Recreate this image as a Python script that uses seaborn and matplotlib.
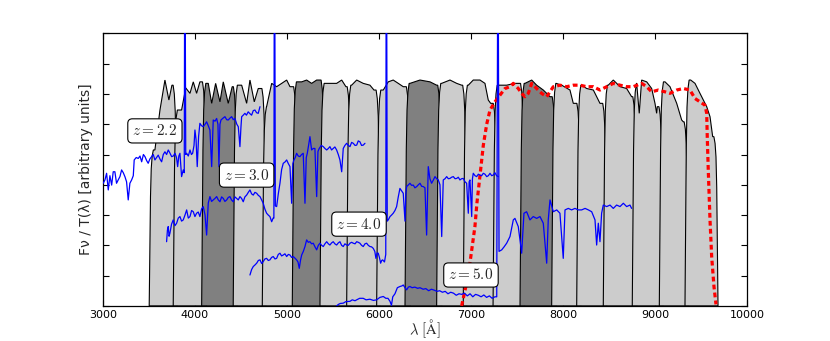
import matplotlib
matplotlib.use("Agg")
import matplotlib.pyplot as plt
import seaborn as sns

# filter bandpasses (Angstrom): base of rising edge / base of falling edge
filter_left = [3503, 3764, 4073, 4416, 4732, 5058, 5359, 5649, 5975, 6283,
               6627, 6916, 7240, 7533, 7877, 8149, 8438, 8753, 9047, 9326]
filter_right = [3808, 4127, 4463, 4773, 5118, 5416, 5700, 6014, 6343, 6684,
                6955, 7287, 7584, 7928, 8196, 8477, 8804, 9088, 9362, 9685]
dark_filters = [2, 5, 9, 13]

# shape of a filter edge (offset from base, fraction of plateau)
edge_off = [0, 6, 14, 22, 32, 45]
edge_frac = [0, 0.3, 0.7, 0.88, 0.96, 1.0]

# top of the filter curves
env_wave = [3565, 3620, 3674, 3717, 3750, 3855, 3900, 3946, 3982, 4018, 4054,
            4145, 4182, 4225, 4272, 4308, 4362, 4405, 4508, 4562, 4598, 4645,
            4688, 4779, 4834, 4888, 4943, 4997, 5033, 5160, 5214, 5268, 5323,
            5467, 5540, 5595, 5641, 5703, 5758, 5829, 5902, 5946, 6047, 6101,
            6155, 6210, 6264, 6337, 6446, 6555, 6627, 6681, 6772, 6845, 6899,
            6971, 7025, 7098, 7152, 7188, 7214, 7334, 7388, 7478, 7587, 7660,
            7714, 7786, 7859, 7925, 7986, 8076, 8112, 8200, 8258, 8330, 8402,
            8492, 8547, 8620, 8692, 8746, 8801, 8829, 8855, 8910, 8964, 9000,
            9018, 9025, 9109, 9163, 9236, 9290, 9308, 9388, 9435, 9489, 9562,
            9598, 9627]
env_top = [5.15, 6.47, 7.46, 6.80, 7.29, 6.47, 7.20, 7.02, 7.40, 7.02, 7.40,
           7.35, 6.69, 7.35, 6.74, 7.40, 6.69, 7.24, 7.29, 6.69, 7.46, 6.74,
           7.18, 6.58, 7.35, 7.24, 7.35, 7.46, 7.24, 7.40, 7.46, 7.35, 7.46,
           7.35, 7.35, 7.46, 7.24, 7.29, 7.46, 7.35, 7.29, 7.13, 7.13, 7.40,
           7.46, 7.35, 7.24, 7.35, 7.46, 7.40, 7.29, 7.35, 7.46, 7.35, 7.29,
           7.29, 7.46, 7.46, 7.35, 6.80, 6.69, 7.29, 7.29, 7.35, 7.35, 7.46,
           7.29, 7.13, 6.91, 7.35, 7.29, 7.13, 6.69, 7.29, 7.18, 7.13, 6.69,
           7.29, 7.46, 7.24, 7.18, 6.91, 7.35, 6.36, 7.46, 7.40, 7.18, 6.69,
           6.36, 6.58, 7.40, 7.24, 6.69, 6.14, 6.08, 7.46, 7.35, 7.02, 6.58,
           6.25, 5.59]

# red dotted response curve
red_wave = [6899, 6953, 6989, 7043, 7065, 7098, 7134, 7171, 7207, 7261, 7315,
            7370, 7424, 7460, 7514, 7551, 7587, 7623, 7660, 7714, 7768, 7823,
            7895, 7967, 8040, 8112, 8185, 8258, 8330, 8402, 8475, 8547, 8620,
            8692, 8764, 8855, 8910, 8964, 9036, 9109, 9163, 9236, 9308, 9380,
            9435, 9489, 9543, 9562, 9568, 9579, 9598, 9616, 9641, 9663]
red_flux = [0.0, 0.76, 1.42, 2.62, 3.4, 4.3, 5.3, 6.0, 6.47, 6.74, 6.96,
            7.18, 7.24, 7.35, 7.18, 7.02, 6.91, 7.02, 7.35, 7.18, 7.02, 6.91,
            7.24, 7.29, 7.24, 7.29, 7.29, 7.24, 7.24, 7.13, 7.24, 7.35, 7.29,
            7.24, 7.24, 7.35, 7.24, 7.07, 7.13, 7.07, 7.02, 7.13, 7.18, 7.13,
            6.85, 6.74, 6.63, 6.36, 5.59, 4.49, 2.84, 1.63, 0.64, 0.05]

# spectra at four redshifts
wave_z22 = [3003, 3022, 3040, 3058, 3076, 3095, 3112, 3130, 3148, 3166, 3185,
            3203, 3221, 3239, 3257, 3275, 3293, 3312, 3330, 3340, 3362, 3384,
            3403, 3421, 3440, 3457, 3475, 3492, 3510, 3529, 3547, 3565, 3583,
            3601, 3620, 3638, 3656, 3674, 3692, 3710, 3728, 3747, 3765, 3783,
            3800, 3812, 3825, 3837, 3855, 3873, 3884, 3888, 3894, 3900, 3910,
            3928, 3946, 3962, 3975, 3990, 4000, 4012, 4025, 4040, 4054, 4072,
            4090, 4110, 4127, 4145, 4163, 4182, 4199, 4218, 4236, 4250, 4261,
            4272, 4283, 4305, 4326, 4345, 4362, 4380, 4399, 4417, 4435, 4455,
            4471, 4489, 4500, 4508, 4525, 4543, 4560, 4579, 4597, 4616, 4634,
            4652, 4670, 4688, 4707]
flux_z22 = [4.05, 4.16, 4.38, 3.83, 4.30, 3.99, 4.43, 4.43, 4.05, 4.16, 4.27,
            4.49, 4.40, 4.27, 4.10, 3.50, 4.05, 4.16, 4.30, 4.82, 4.90, 4.87,
            4.95, 4.76, 5.00, 4.93, 4.80, 4.71, 4.85, 4.93, 5.00, 4.82, 4.90,
            4.98, 4.85, 4.76, 5.00, 5.09, 5.00, 5.15, 5.05, 4.93, 4.95, 5.04,
            4.90, 4.60, 4.95, 5.04, 4.27, 4.49, 4.40, 10.5, 10.5, 5.00, 5.04,
            4.95, 5.15, 5.00, 5.04, 5.30, 5.81, 5.50, 4.60, 5.60, 6.03, 5.95,
            5.92, 6.00, 6.08, 5.95, 5.81, 4.60, 6.14, 6.10, 6.19, 6.00, 4.60,
            6.00, 6.14, 6.20, 6.25, 6.15, 6.14, 6.20, 6.25, 6.15, 6.19, 6.00,
            5.92, 5.26, 5.90, 6.25, 6.30, 6.36, 6.30, 6.41, 6.35, 6.30, 6.45,
            6.47, 6.38, 6.36, 6.58]

wave_z30 = [3692, 3701, 3710, 3719, 3728, 3746, 3764, 3783, 3801, 3819, 3837,
            3855, 3873, 3892, 3910, 3928, 3946, 3964, 3982, 4000, 4018, 4036,
            4054, 4072, 4090, 4110, 4127, 4145, 4163, 4181, 4199, 4218, 4236,
            4254, 4272, 4290, 4308, 4326, 4345, 4362, 4380, 4398, 4416, 4435,
            4453, 4471, 4489, 4507, 4525, 4543, 4562, 4580, 4598, 4616, 4634,
            4652, 4671, 4689, 4707, 4725, 4742, 4760, 4779, 4797, 4815, 4834,
            4850, 4858, 4862, 4868, 4874, 4888, 4906, 4924, 4942, 4960, 4978,
            4997, 5015, 5033, 5051, 5064, 5076, 5090, 5105, 5123, 5141, 5159,
            5177, 5196, 5210, 5221, 5235, 5250, 5268, 5286, 5304, 5323, 5337,
            5351, 5373, 5395, 5413, 5432, 5450, 5467, 5485, 5503, 5521, 5540,
            5558, 5576, 5595, 5612, 5630, 5649, 5667, 5685, 5703, 5721, 5740,
            5758, 5775, 5793, 5811, 5829, 5848]
flux_z30 = [2.12, 2.50, 2.62, 2.30, 2.40, 2.70, 2.84, 2.65, 2.73, 2.90, 2.95,
            2.80, 2.84, 3.00, 3.17, 2.90, 2.95, 3.15, 3.11, 2.95, 3.06, 3.10,
            2.95, 3.20, 3.28, 3.00, 2.34, 3.40, 3.61, 3.45, 3.50, 3.55, 3.61,
            3.50, 3.44, 3.60, 3.55, 3.45, 3.50, 3.58, 3.61, 3.50, 3.44, 3.60,
            3.55, 3.50, 3.61, 3.55, 3.44, 3.60, 3.66, 3.75, 3.83, 3.70, 3.66,
            3.75, 3.72, 3.65, 3.61, 3.50, 3.39, 3.20, 3.06, 3.00, 2.95, 2.78,
            2.90, 2.90, 10.5, 10.5, 3.30, 3.28, 3.70, 4.05, 4.50, 4.71, 4.75,
            4.82, 4.70, 4.60, 3.39, 4.70, 4.82, 4.90, 5.04, 4.95, 4.93, 5.00,
            5.04, 3.39, 4.90, 5.04, 5.30, 5.59, 5.15, 5.20, 5.20, 3.61, 5.10,
            5.20, 5.30, 5.26, 5.20, 5.15, 5.20, 5.26, 5.15, 5.20, 5.25, 5.15,
            5.00, 4.82, 4.43, 5.20, 5.30, 5.37, 5.30, 5.26, 5.40, 5.37, 5.30,
            5.31, 5.45, 5.42, 5.30, 5.31, 5.37]

wave_z40 = [4598, 4616, 4634, 4652, 4671, 4689, 4707, 4725, 4742, 4760, 4779,
            4797, 4815, 4833, 4851, 4870, 4888, 4906, 4924, 4942, 4960, 4978,
            4997, 5015, 5033, 5051, 5068, 5086, 5105, 5120, 5134, 5147, 5160,
            5178, 5196, 5214, 5232, 5250, 5268, 5286, 5305, 5323, 5341, 5359,
            5377, 5395, 5413, 5432, 5450, 5467, 5485, 5503, 5521, 5540, 5558,
            5576, 5594, 5612, 5630, 5649, 5667, 5685, 5703, 5721, 5740, 5758,
            5775, 5793, 5811, 5829, 5848, 5866, 5884, 5902, 5920, 5938, 5955,
            5967, 5980, 5992, 6005, 6018, 6030, 6040, 6060, 6074, 6078, 6084,
            6090, 6101, 6120, 6137, 6155, 6174, 6192, 6210, 6228, 6246, 6264,
            6283, 6292, 6301, 6320, 6337, 6355, 6373, 6391, 6410, 6428, 6446,
            6464, 6482, 6500, 6518, 6536, 6554, 6572, 6590, 6609, 6627, 6645,
            6663, 6682, 6699, 6718, 6736, 6754, 6772, 6790, 6808, 6827, 6845,
            6862, 6880, 6898, 6916, 6935, 6953, 6971, 6980, 6989, 7008, 7016,
            7025, 7044, 7062, 7080, 7098, 7116, 7134, 7152, 7171, 7189, 7207,
            7225, 7242, 7260, 7278, 7297]
flux_z40 = [1.02, 1.20, 1.30, 1.35, 1.41, 1.50, 1.52, 1.40, 1.46, 1.55, 1.57,
            1.50, 1.52, 1.60, 1.63, 1.55, 1.57, 1.70, 1.74, 1.65, 1.68, 1.72,
            1.63, 1.70, 1.68, 1.60, 1.63, 1.58, 1.52, 1.45, 1.24, 1.50, 1.68,
            1.80, 1.96, 2.18, 2.10, 2.12, 2.05, 2.07, 1.95, 1.85, 2.00, 2.07,
            2.00, 1.96, 2.05, 2.12, 2.05, 2.01, 2.08, 2.12, 2.05, 2.01, 2.08,
            2.12, 2.00, 1.96, 2.05, 2.01, 2.00, 2.07, 2.10, 2.07, 2.05, 2.12,
            2.10, 2.07, 2.00, 1.96, 2.05, 2.07, 2.00, 1.96, 1.95, 1.90, 1.80,
            1.57, 1.75, 1.74, 1.60, 1.41, 1.50, 1.52, 1.45, 1.70, 10.5, 10.5,
            2.80, 2.84, 2.95, 3.00, 3.06, 3.15, 3.28, 3.60, 3.88, 3.80, 3.72,
            2.80, 3.70, 3.94, 4.00, 4.05, 3.98, 3.99, 3.90, 3.94, 4.00, 4.05,
            3.95, 3.94, 3.90, 2.34, 4.60, 4.20, 4.05, 4.15, 4.27, 4.20, 4.16,
            4.00, 2.29, 4.16, 4.20, 4.27, 4.20, 4.21, 4.25, 4.27, 4.20, 4.21,
            4.25, 4.16, 4.20, 4.21, 4.10, 4.05, 3.06, 4.10, 4.16, 2.95, 4.20,
            4.38, 4.30, 4.27, 4.35, 4.32, 4.30, 4.38, 4.35, 4.27, 4.30, 4.38,
            4.30, 4.32, 4.40, 4.30, 4.27]

wave_z50 = [5540, 5560, 5580, 5612, 5640, 5685, 5710, 5740, 5758, 5790, 5829,
            5860, 5902, 5940, 5975, 6010, 6047, 6075, 6098, 6120, 6136, 6150,
            6174, 6200, 6228, 6250, 6264, 6283, 6301, 6320, 6337, 6360, 6390,
            6420, 6446, 6480, 6510, 6540, 6570, 6600, 6630, 6660, 6690, 6720,
            6750, 6780, 6810, 6840, 6870, 6900, 6930, 6960, 6990, 7020, 7050,
            7080, 7110, 7140, 7170, 7200, 7230, 7260, 7280, 7290, 7297, 7305,
            7334, 7360, 7388, 7424, 7460, 7478, 7514, 7551, 7576, 7605, 7641,
            7677, 7714, 7750, 7786, 7823, 7840, 7859, 7895, 7932, 7967, 8003,
            8022, 8058, 8094, 8130, 8167, 8203, 8240, 8276, 8312, 8348, 8366,
            8384, 8402, 8420, 8438, 8475, 8511, 8547, 8583, 8620, 8656, 8692,
            8728, 8746]
flux_z50 = [0.00, 0.05, 0.08, 0.09, 0.14, 0.15, 0.20, 0.17, 0.20, 0.25, 0.25,
            0.20, 0.22, 0.18, 0.20, 0.28, 0.31, 0.25, 0.25, 0.15, 0.02, 0.30,
            0.40, 0.60, 0.64, 0.66, 0.69, 0.60, 0.53, 0.62, 0.64, 0.60, 0.62,
            0.58, 0.60, 0.55, 0.57, 0.50, 0.55, 0.52, 0.48, 0.50, 0.45, 0.48,
            0.40, 0.45, 0.42, 0.35, 0.40, 0.38, 0.42, 0.33, 0.40, 0.30, 0.38,
            0.35, 0.30, 0.36, 0.28, 0.33, 0.25, 0.30, 0.30, 10.5, 10.5, 1.80,
            1.85, 1.95, 2.07, 2.29, 2.84, 2.89, 2.62, 1.74, 3.06, 3.11, 2.84,
            2.95, 2.89, 2.95, 2.73, 1.41, 2.84, 3.50, 3.11, 3.17, 3.06, 1.57,
            3.17, 3.22, 3.17, 3.22, 3.17, 3.17, 3.22, 3.17, 3.11, 2.84, 2.01,
            2.73, 2.12, 3.06, 3.33, 3.28, 3.33, 3.22, 3.33, 3.28, 3.39, 3.28,
            3.33, 3.22]

spectra = [(wave_z22, flux_z22), (wave_z30, flux_z30),
           (wave_z40, flux_z40), (wave_z50, flux_z50)]

z_labels = ["$z=2.2$", "$z=3.0$", "$z=4.0$", "$z=5.0$"]
z_label_x = [3565, 4562, 5783, 7000]
z_label_y = [5.78, 4.32, 2.70, 1.02]

sns.set_style("ticks")
plt.rcParams["font.family"] = ["DejaVu Sans"]
plt.rcParams["mathtext.fontset"] = "cm"

fig, ax = plt.subplots(figsize=(8.3, 3.41), dpi=100)
fig.subplots_adjust(left=0.124, right=0.9, bottom=0.103, top=0.902)

# filters: each drawn on top of the previous one
for i, (lo, hi) in enumerate(zip(filter_left, filter_right)):
    pts = [(w, t) for w, t in zip(env_wave, env_top)
           if lo + edge_off[-1] < w < hi - edge_off[-1]]
    first, last = pts[0][1], pts[-1][1]
    xs = [lo + o for o in edge_off] + [p[0] for p in pts] + [hi - o for o in edge_off[::-1]]
    ys = [f * first for f in edge_frac] + [p[1] for p in pts] + [f * last for f in edge_frac[::-1]]
    col = "0.5" if i in dark_filters else "0.8"
    ax.fill(xs, ys, facecolor=col, edgecolor="black", lw=0.8, zorder=1)

sns.lineplot(x=red_wave, y=red_flux, ax=ax, color="red", lw=2.3,
             linestyle=(0, (1.5, 1.0)), sort=False, estimator=None, zorder=3)

for wave, flux in spectra:
    sns.lineplot(x=wave, y=flux, ax=ax, color="#0000ff", lw=0.9,
                 sort=False, estimator=None, zorder=4)

for lab, x, y in zip(z_labels, z_label_x, z_label_y):
    ax.text(x, y, lab, ha="center", va="center", fontsize=11, zorder=6,
            bbox=dict(boxstyle="round,pad=0.3", fc="white", ec="black", lw=0.8))

ax.set_xlim(3000, 10000)
ax.set_ylim(0, 9)
ax.set_xticks(range(3000, 10001, 1000))
ax.set_yticks(range(0, 10))
ax.set_yticklabels([])
ax.tick_params(direction="in", top=True, right=True, length=4, width=0.8,
               labelsize=8, colors="black", pad=3)
for s in ax.spines.values():
    s.set_linewidth(0.9)
    s.set_color("black")
ax.set_xlabel(r"$\lambda\ [\mathrm{\AA}]$", fontsize=10.5, labelpad=-2)
ax.set_ylabel("Fν / T(λ) [arbitrary units]", fontsize=10)

fig.savefig("out.png", dpi=100)
